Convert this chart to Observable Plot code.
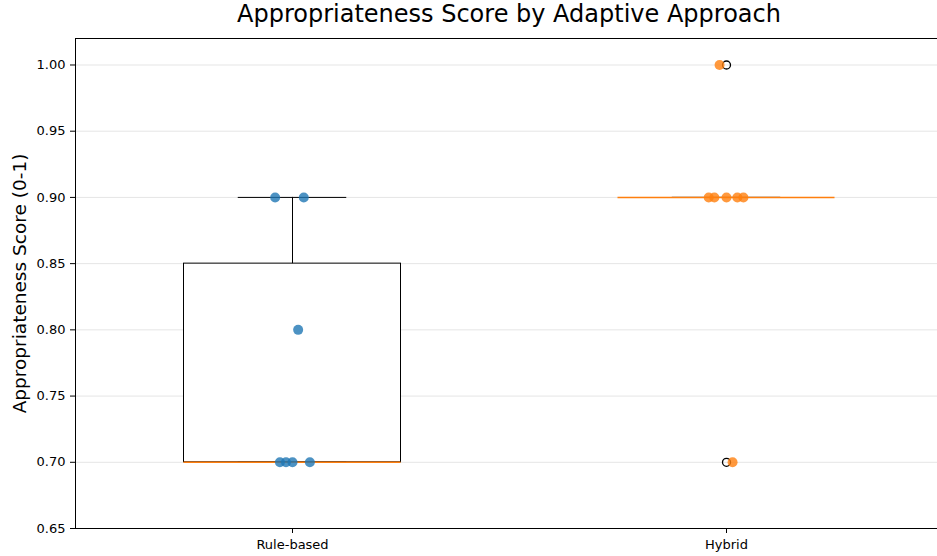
<!DOCTYPE html>
<html>
<head>
<meta charset="utf-8">
<script src="https://cdn.jsdelivr.net/npm/d3@7"></script>
<script src="https://cdn.jsdelivr.net/npm/@observablehq/plot@0.6"></script>
<style>
  html, body { margin: 0; padding: 0; background: white; overflow: hidden; width: 937px; height: 556px; }
  #wrap { position: relative; width: 945px; font-family: "DejaVu Sans", sans-serif; }
  #title { position: absolute; left: 75px; width: 868px; top: -1px; height: 30px; line-height: 30px; text-align: center; font-size: 24px; color: black; }
  #chart { position: absolute; left: 0; top: 30px; }
</style>
</head>
<body>
<div id="wrap">
  <div id="title">Appropriateness Score by Adaptive Approach</div>
  <div id="chart"></div>
</div>
<script>
const categories = ["Rule-based", "Hybrid"];
const ruleScores = [0.9, 0.9, 0.8, 0.7, 0.7, 0.7, 0.7];
const ruleJitter = [-0.040, 0.026, 0.013, -0.029, -0.015, 0.0, 0.040];
const hybridScores = [1.0, 0.9, 0.9, 0.9, 0.9, 0.9, 0.7];
const hybridJitter = [-0.016, -0.041, -0.028, 0.0, 0.025, 0.039, 0.014];
const yTicks = [0.65, 0.70, 0.75, 0.80, 0.85, 0.90, 0.95, 1.00];
const colors = ["#1f77b4", "#ff7f0e"];
const yLabel = "Appropriateness Score (0-1)";

const groups = [
  {name: categories[0], pos: 1, scores: ruleScores, jitter: ruleJitter, color: colors[0]},
  {name: categories[1], pos: 2, scores: hybridScores, jitter: hybridJitter, color: colors[1]}
];

const stats = groups.map(g => {
  const s = g.scores.slice().sort(d3.ascending);
  const q1 = d3.quantile(s, 0.25), med = d3.quantile(s, 0.5), q3 = d3.quantile(s, 0.75);
  const iqr = q3 - q1;
  const lo = d3.min(s.filter(v => v >= q1 - 1.5 * iqr));
  const hi = d3.max(s.filter(v => v <= q3 + 1.5 * iqr));
  const outliers = s.filter(v => v < lo || v > hi);
  return {pos: g.pos, q1, med, q3, lo, hi, outliers};
});
const outlierPts = stats.flatMap(s => s.outliers.map(v => ({pos: s.pos, y: v})));
const points = groups.flatMap(g => g.scores.map((v, i) => ({x: g.pos + g.jitter[i], y: v, color: g.color})));

const chart = Plot.plot({
  width: 945,
  height: 526,
  marginLeft: 75,
  marginRight: 2,
  marginTop: 8,
  marginBottom: 28,
  style: {fontFamily: "DejaVu Sans, sans-serif", fontSize: "13px", color: "black", background: "white"},
  x: {domain: [0.5, 2.5]},
  y: {domain: [0.65, 1.02]},
  marks: [
    Plot.ruleY(yTicks.slice(1), {stroke: "#e5e5e5", strokeWidth: 1}),
    Plot.rect(stats, {x1: d => d.pos - 0.25, x2: d => d.pos + 0.25, y1: "q1", y2: "q3", fill: "white", stroke: "black", strokeWidth: 1}),
    Plot.ruleX(stats, {x: "pos", y1: "q3", y2: "hi", stroke: "black", strokeWidth: 1}),
    Plot.ruleX(stats, {x: "pos", y1: "lo", y2: "q1", stroke: "black", strokeWidth: 1}),
    Plot.ruleY(stats, {y: "hi", x1: d => d.pos - 0.125, x2: d => d.pos + 0.125, stroke: "black", strokeWidth: 1}),
    Plot.ruleY(stats, {y: "lo", x1: d => d.pos - 0.125, x2: d => d.pos + 0.125, stroke: "black", strokeWidth: 1}),
    Plot.ruleY(stats, {y: "med", x1: d => d.pos - 0.25, x2: d => d.pos + 0.25, stroke: colors[1], strokeWidth: 1.5}),
    Plot.dot(outlierPts, {x: "pos", y: "y", r: 4, stroke: "black", strokeWidth: 1.3, fill: "none"}),
    Plot.dot(points, {x: "x", y: "y", r: 5, fill: d => d.color, fillOpacity: 0.8, stroke: "none"}),
    Plot.frame({stroke: "black", strokeWidth: 1}),
    Plot.axisY({ticks: yTicks, tickFormat: d3.format(".2f"), tickSize: 5, tickPadding: 5, label: null, fontSize: 13}),
    Plot.axisX({ticks: [1, 2], tickFormat: d => categories[d - 1], tickSize: 5, tickPadding: 6, label: null, fontSize: 13}),
    Plot.text([yLabel], {frameAnchor: "left", dx: -55, rotate: -90, fontSize: 18.5, fill: "black", textAnchor: "middle"})
  ]
});
document.getElementById("chart").appendChild(chart);
</script>
</body>
</html>
